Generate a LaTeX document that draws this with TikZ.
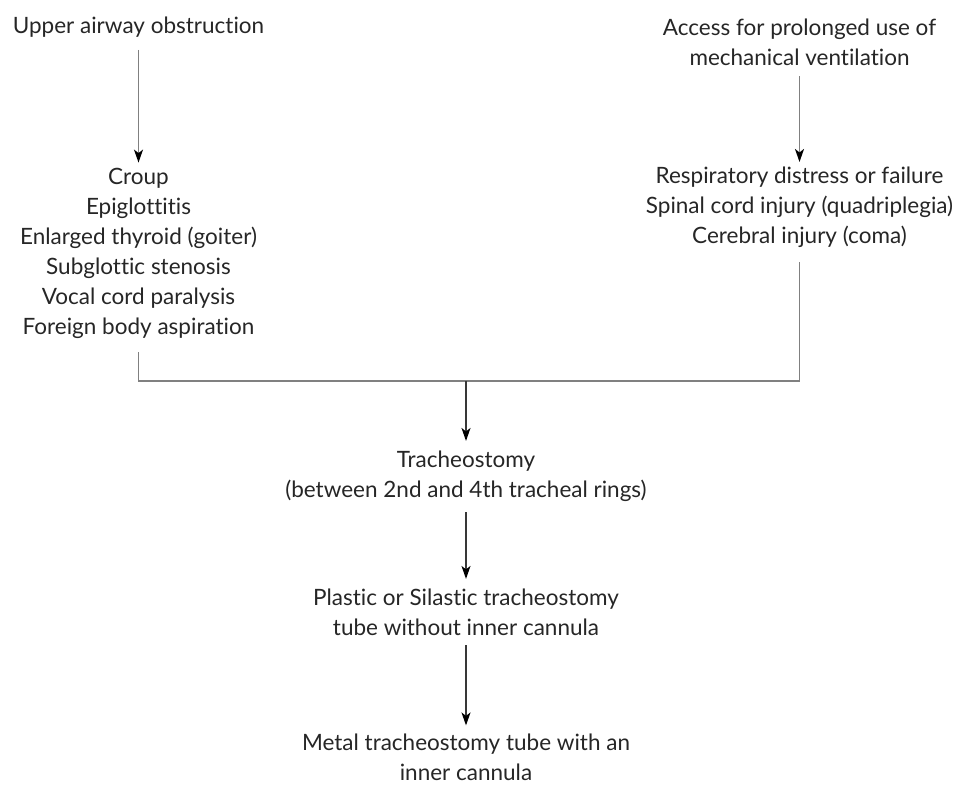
\documentclass[tikz,border=0pt]{standalone}
\usepackage{fontspec}
\setmainfont{Lato}[Ligatures={NoCommon}]
\usetikzlibrary{arrows.meta}
\begin{document}
\begin{tikzpicture}[x=1pt,y=-1pt,
  txt/.style={align=center,inner sep=0pt,font=\fontsize{22.5}{30}\selectfont,text=black!85},
  greylink/.style={draw=black!50,line width=1.7pt},
  darklink/.style={draw=black!78,line width=1.3pt},
  tip/.style={-{Stealth[length=13pt,width=9pt,inset=3.5pt,color=black]}}]
\useasboundingbox (0,0) rectangle (961,786);

% indications
\node[txt] (uao) at (138.5,27.5) {Upper airway obstruction};
\node[txt] (acc) at (799.5,42.5) {Access for prolonged use of\\mechanical ventilation};

% causes
\node[txt] (left) at (138.5,253) {Croup\\Epiglottitis\\Enlarged thyroid (goiter)\\Subglottic stenosis\\Vocal cord paralysis\\Foreign body aspiration};
\node[txt] (right) at (799.5,207.5) {Respiratory distress or failure\\Spinal cord injury (quadriplegia)\\Cerebral injury (coma)};

% procedure and tubes
\node[txt] (trach) at (466,476.5) {Tracheostomy\\(between 2nd and 4th tracheal rings)};
\node[txt] (plastic) at (466,612.5) {Plastic or Silastic tracheostomy\\tube without inner cannula};
\node[txt] (metal) at (466,757) {Metal tracheostomy tube with an\\inner cannula};

\coordinate (join) at (466,381);

\draw[greylink,tip,shorten <=12pt,shorten >=5pt] (uao.south) -- (left.north);
\draw[greylink,tip,shorten <=10pt,shorten >=5pt] (acc.south) -- (right.north);
\draw[greylink,shorten <=14pt] (left.south) -- (left.south |- join) -- (right.south |- join);
\draw[greylink,shorten <=14pt] (right.south) -- (right.south |- join);
\draw[darklink,tip,shorten >=10pt] (join) -- (trach.north);
\draw[darklink,tip,shorten <=10pt,shorten >=10pt] (trach.south) -- (plastic.north);
\draw[darklink,tip,shorten <=9pt,shorten >=8pt] (plastic.south) -- (metal.north);
\end{tikzpicture}
\end{document}
